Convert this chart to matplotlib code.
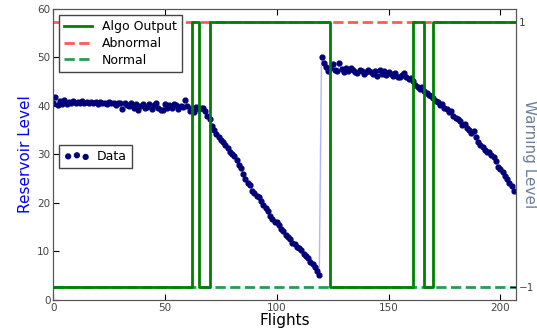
import numpy as np
import matplotlib
matplotlib.use("Agg")
import matplotlib.pyplot as plt

# reservoir level per flight
level = [
    40.5, 41.8, 40.2, 41.0, 40.3, 41.2, 40.4, 40.8, 40.6, 41.0,
    40.5, 40.9, 40.6, 41.0, 40.7, 40.8, 40.5, 40.9, 40.6, 40.8,
    40.4, 40.9, 40.6, 40.7, 40.3, 40.8, 40.5, 40.6, 40.2, 40.7,
    40.5, 39.3, 40.6, 40.2, 40.0, 40.7, 39.6, 40.3, 39.2, 40.0,
    40.3, 39.6, 39.8, 40.4, 39.3, 40.1, 40.5, 39.5, 39.2, 39.2,
    40.3, 39.5, 40.1, 39.6, 40.3, 40.2, 39.4, 40.0, 39.8, 41.2,
    39.9, 39.0, 39.6, 38.8, 39.8, 39.4, 39.6, 39.5, 38.9, 38.0,
    37.4, 35.8, 35.0, 34.2, 33.5, 33.0, 32.6, 32.0, 31.3, 30.5,
    30.1, 29.6, 28.8, 27.8, 27.2, 25.9, 25.0, 24.2, 23.6, 22.4,
    22.0, 21.5, 21.3, 20.4, 19.5, 18.9, 18.4, 17.2, 16.6, 16.1,
    16.0, 15.4, 14.6, 14.2, 13.3, 13.0, 12.6, 11.8, 11.5, 11.0,
    10.6, 10.2, 9.5, 9.0, 8.6, 7.8, 7.3, 6.8, 6.0, 5.1,
    50.1, 48.9, 48.1, 47.2, 47.9, 48.6, 47.5, 47.2, 48.8, 47.6,
    47.0, 47.8, 47.3, 47.9, 47.4, 47.0, 46.8, 47.5, 47.2, 46.6,
    47.0, 47.4, 46.9, 46.5, 47.2, 46.2, 47.5, 46.6, 47.3, 46.4,
    47.0, 46.5, 46.2, 46.8, 46.0, 45.9, 46.4, 46.7, 46.0, 45.5,
    45.7, 45.2, 44.4, 43.9, 43.5, 43.8, 43.0, 42.6, 42.3, 42.0,
    41.7, 41.0, 40.8, 40.2, 40.4, 39.5, 39.3, 38.8, 38.9, 37.9,
    37.6, 37.2, 36.8, 36.0, 36.2, 35.4, 35.0, 34.5, 34.8, 33.6,
    32.6, 32.0, 31.6, 31.0, 30.5, 30.6, 29.8, 29.4, 28.6, 27.5,
    27.0, 26.3, 25.5, 25.0, 24.1, 23.4, 22.4,
]
flights = np.arange(len(level))

# algorithm output: flight where the state changes, and the new state
algo_switch = [0, 62, 65, 70, 124, 161, 166, 170, 206]
algo_state = [-1, 1, -1, 1, -1, 1, -1, 1, 1]

abnormal_level = 1
normal_level = -1

fig = plt.figure(figsize=(5.37, 3.31), dpi=100)
ax = fig.add_axes([0.099, 0.094, 0.862, 0.879])

ax.plot(flights, level, color='#b4b4ff', linewidth=1, zorder=1)
ax.scatter(flights, level, s=12, color='#00007a', zorder=2, label='Data')
ax.set_xlim(0, 207)
ax.set_ylim(0, 60)
ax.set_xticks([0, 50, 100, 150, 200])
ax.set_yticks([0, 10, 20, 30, 40, 50, 60])
ax.set_xlabel('Flights', fontsize=11, labelpad=0)
ax.set_ylabel('Reservoir Level', color='blue', fontsize=11, labelpad=3)
ax.tick_params(direction='in', top=True, labelsize=7.5, labelcolor='#444444', length=4, pad=2)
leg2 = ax.legend(loc='upper left', bbox_to_anchor=(0.0, 0.555), scatterpoints=3,
                 fontsize=9, fancybox=False, edgecolor='#444444', framealpha=1,
                 handletextpad=0.6)

ax2 = ax.twinx()
ax2.axhline(abnormal_level, color='#ff5a5a', linestyle='--', linewidth=2, label='Abnormal', zorder=1)
ax2.axhline(normal_level, color='#2a9a55', linestyle='--', linewidth=2, label='Normal', zorder=1)
ax2.plot(algo_switch, algo_state, drawstyle='steps-post', color='#008000', linewidth=2,
         label='Algo Output', zorder=2)
ax2.set_ylim(-1.1, 1.1)
ax2.set_yticks([-1, 1])
ax2.set_ylabel('Warning Level', color='#6b809c', fontsize=11, rotation=270,
               va='center', ha='center')
ax2.yaxis.set_label_coords(1.03, 0.5)
ax2.tick_params(direction='in', labelsize=7.5, labelcolor='#444444', length=4, pad=2)

h, l = ax2.get_legend_handles_labels()
order = [2, 0, 1]
ax2.legend([h[i] for i in order], [l[i] for i in order], loc='upper left', fontsize=9,
           fancybox=False, edgecolor='#444444', framealpha=1, handlelength=2.2,
           borderaxespad=0.5, labelspacing=0.3)

for a in (ax, ax2):
    for s in a.spines.values():
        s.set_color('#555555')

fig.savefig('out.png', dpi=100)
